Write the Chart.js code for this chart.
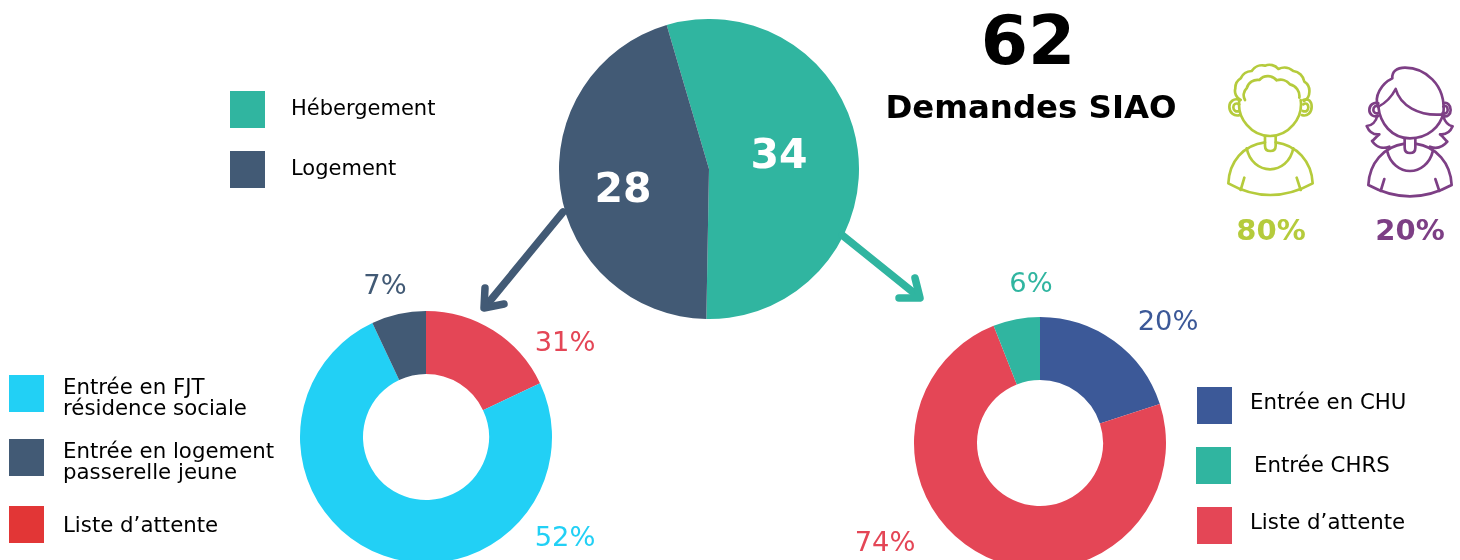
<!DOCTYPE html>
<html lang="fr"><head><meta charset="utf-8">
<script src="https://cdn.jsdelivr.net/npm/chart.js@4"></script>
<style>
html,body{margin:0;padding:0;background:#fff;width:1460px;height:560px;overflow:hidden;font-family:"DejaVu Sans",sans-serif}
#stage{position:relative;width:1460px;height:560px;overflow:hidden}
canvas{position:absolute;display:block}
.t{position:absolute;white-space:pre;transform:translate(-50%,-50%);line-height:1}
.l{position:absolute;white-space:pre;font-size:21.3px;line-height:21px;color:#000}
.s{position:absolute;width:35px;height:37px}
svg{position:absolute;overflow:visible}
svg *{fill:none;stroke-linecap:round;stroke-linejoin:round}
</style></head><body><div id="stage">
<canvas id="main" style="left:559px;top:19px"></canvas>
<canvas id="left" style="left:300px;top:311px"></canvas>
<canvas id="right" style="left:914px;top:317px"></canvas>

<svg style="left:0;top:0" width="1460" height="560">
 <g stroke="#425a75" stroke-width="7.5"><path d="M563 212L485 307"/><path d="M485 288L484 308L504 304"/></g>
 <g stroke="#30b5a0" stroke-width="7.5"><path d="M842 235L919 297"/><path d="M915 278L920 298L899 298"/></g>
</svg>
<svg style="left:1210px;top:55px" width="120" height="190" viewBox="0 0 360 570">
 <g stroke="#b5cb3c" stroke-width="8">
  <path d="M88 135C80 190 125 243 180 243C235 243 280 190 272 135"/>
  <path d="M92 135A30 30 0 0 1 76 100A34 34 0 0 1 92 70A38 38 0 0 1 125 48A38 38 0 0 1 165 32A34 34 0 0 1 205 42A42 42 0 0 1 250 48A38 38 0 0 1 283 80A34 34 0 0 1 298 112A30 30 0 0 1 282 138"/>
  <path d="M105 135A28 28 0 0 1 110 100A34 34 0 0 1 148 75A34 34 0 0 1 200 76A36 36 0 0 1 240 88A36 36 0 0 1 268 128"/>
  <path d="M88 135C72 128 58 140 58 155C58 172 72 186 90 180"/><path d="M88 148C78 142 70 148 70 157C70 166 78 172 88 168"/>
  <path d="M280 135C295 128 305 140 305 155C305 172 292 186 275 180"/><path d="M280 148C288 142 295 148 295 157C295 166 288 172 278 168"/>
  <path d="M165 245V272Q165 288 181 288Q197 288 197 272V245"/>
  <path d="M165 262C100 270 58 320 55 385Q180 455 308 385C305 320 260 270 197 262"/>
  <path d="M110 280C118 320 148 343 180 343C212 343 242 320 250 280"/>
  <path d="M103 368L92 405M260 368L272 405"/>
 </g>
</svg>
<svg style="left:1350px;top:55px" width="120" height="190" viewBox="0 0 360 570">
 <g stroke="#7d3f85" stroke-width="8">
  <path d="M85 155C90 205 125 250 180 250C235 250 270 215 280 175"/>
  <path d="M85 155C70 125 95 85 127 70C125 50 140 38 165 38C220 38 290 85 280 178"/>
  <path d="M85 155C105 145 125 125 137 102C150 150 205 185 280 178"/>
  <path d="M85 145C72 140 58 150 58 165C58 178 70 188 85 183"/><path d="M85 155C78 150 70 155 70 165C70 172 78 178 85 174"/>
  <path d="M280 145C292 140 302 150 302 165C302 178 292 188 278 183"/><path d="M280 155C288 150 293 155 293 165C293 172 288 178 278 174"/>
  <path d="M82 182C78 200 65 212 50 213C58 232 72 240 88 238C78 245 72 255 66 258C80 278 100 282 118 275"/>
  <path d="M280 185C285 200 295 212 308 214C300 232 285 240 270 238C280 245 285 255 292 260C275 280 258 282 240 275"/>
  <path d="M164 252V278Q164 294 180 294Q196 294 196 278V252"/>
  <path d="M164 266C100 275 58 325 55 390Q180 458 305 390C302 325 260 275 196 266"/>
  <path d="M112 290C120 325 150 348 180 348C210 348 240 325 248 290"/>
  <path d="M103 372L92 408M256 372L268 408"/>
 </g>
</svg>
</div>
<script>
const mainCategories = ["Hébergement", "Logement"];
const mainValues = [34, 28];
const mainTotal = "62";
const mainTitle = "Demandes SIAO";
const genderShares = ["80%", "20%"];

const leftCategories = ["Liste d’attente", "Entrée en FJT\nrésidence sociale", "Entrée en logement\npasserelle jeune"];
const leftArcShares = [18, 75, 7];
const leftLabels = ["31%", "52%", "7%"];

const rightCategories = ["Entrée en CHU", "Liste d’attente", "Entrée CHRS"];
const rightValues = [20, 74, 6];
const rightLabels = ["20%", "74%", "6%"];

const C = {teal:"#30b5a0", slate:"#425a75", cyan:"#22d0f5", red:"#e44656", redSw:"#e23636", blue:"#3c5998", lime:"#b5cb3c", purple:"#7d3f85"};
Chart.defaults.animation = false;

function pie(id, size, labels, data, colors, cutout, rotation){
  const cv = document.getElementById(id);
  cv.width = size; cv.height = size;
  cv.style.width = size + "px"; cv.style.height = size + "px";
  return new Chart(cv, {
    type: "doughnut",
    data: {labels, datasets: [{data, backgroundColor: colors, borderWidth: 0, hoverOffset: 0}]},
    options: {responsive: false, cutout, rotation, layout: {padding: 0},
      plugins: {legend: {display: false}, tooltip: {enabled: false}}}
  });
}
pie("main", 300, mainCategories, mainValues, [C.teal, C.slate], 0, -16.4);
pie("left", 252, leftCategories, leftArcShares, [C.red, C.cyan, C.slate], "50%", 0);
pie("right", 252, rightCategories, rightValues, [C.blue, C.red, C.teal], "50%", 0);

const stage = document.getElementById("stage");
function text(s, x, y, size, color, bold){
  const d = document.createElement("div"); d.className = "t"; d.textContent = s;
  d.style.cssText = `left:${x}px;top:${y}px;font-size:${size}px;color:${color};font-weight:${bold ? 700 : 400}`;
  stage.appendChild(d);
}
function legend(s, color, sx, sy, tx, ty, fs){
  const b = document.createElement("div"); b.className = "s";
  b.style.cssText = `left:${sx}px;top:${sy}px;background:${color}`; stage.appendChild(b);
  const l = document.createElement("div"); l.className = "l"; l.textContent = s;
  l.style.cssText = `left:${tx}px;top:${ty}px` + (fs ? `;font-size:${fs}px` : "");
  stage.appendChild(l);
}
text(mainTotal, 1028, 41, 68, "#000", true);
text(mainTitle, 1031, 107, 32.4, "#000", true);
text(String(mainValues[0]), 779, 154, 41, "#fff", true);
text(String(mainValues[1]), 623, 188, 41, "#fff", true);
text(genderShares[0], 1271, 230, 29, C.lime, true);
text(genderShares[1], 1410, 230, 29, C.purple, true);
text(leftLabels[0], 565, 342, 27.3, C.red);
text(leftLabels[1], 565, 537, 27.3, C.cyan);
text(leftLabels[2], 385, 285, 27.3, C.slate);
text(rightLabels[0], 1168, 321, 27.3, C.blue);
text(rightLabels[1], 885, 542, 27.3, C.red);
text(rightLabels[2], 1031, 283, 27.3, C.teal);

legend(mainCategories[0], C.teal, 230, 91, 291, 98, 21);
legend(mainCategories[1], C.slate, 230, 151, 291, 158, 21);
legend(leftCategories[1], C.cyan, 9, 375, 63, 376);
legend(leftCategories[2], C.slate, 9, 439, 63, 440);
legend(leftCategories[0], C.redSw, 9, 506, 63, 514);
legend(rightCategories[0], C.blue, 1197, 387, 1250, 391);
legend(rightCategories[2], C.teal, 1196, 447, 1254, 454);
legend(rightCategories[1], C.red, 1197, 507, 1250, 511);
</script></body></html>
